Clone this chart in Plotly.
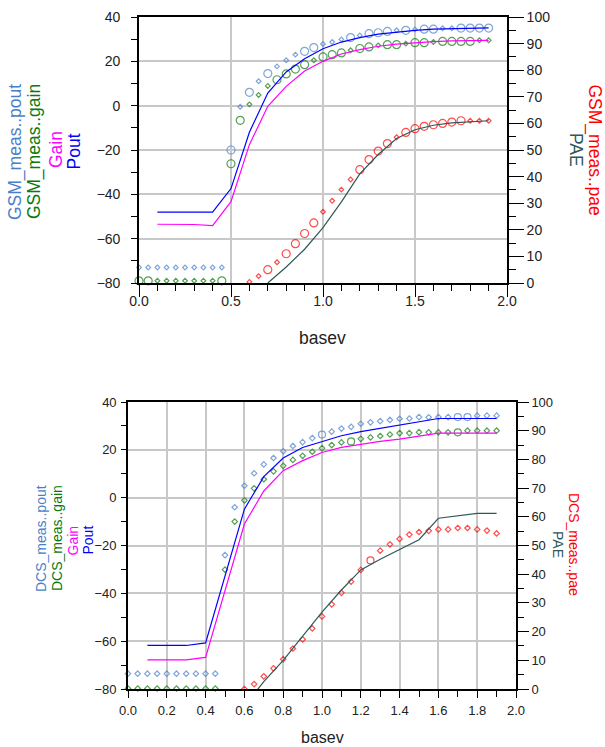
import plotly.graph_objects as go

FONT = "Liberation Sans, Arial, sans-serif"
W, H = 605, 747

# ---------------- data ----------------
x_meas = [0.0, 0.05, 0.1, 0.15, 0.2, 0.25, 0.3, 0.35, 0.4, 0.45,
          0.5, 0.55, 0.6, 0.65, 0.7, 0.75, 0.8, 0.85, 0.9, 0.95,
          1.0, 1.05, 1.1, 1.15, 1.2, 1.25, 1.3, 1.35, 1.4, 1.45,
          1.5, 1.55, 1.6, 1.65, 1.7, 1.75, 1.8, 1.85, 1.9]
x_model = [0.1, 0.2, 0.3, 0.4, 0.5, 0.6, 0.7, 0.8, 0.9, 1.0,
           1.1, 1.2, 1.3, 1.4, 1.5, 1.6, 1.7, 1.8, 1.9]

# top chart (GSM)
gsm_meas_pout = [-73, -73, -73, -73, -73, -73, -73, -73, -73, -73,
                 -20, -0.5, 6, 11, 14.5, 17.7, 20.5, 23, 24.5, 26.2,
                 27.8, 28.7, 29.9, 30.7, 31.7, 32.5, 32.9, 33.5, 34, 34,
                 34.4, 34.5, 34.5, 34.9, 34.9, 35, 35, 35, 35]
gsm_meas_gain = [-79, -79, -79, -79, -79, -79, -79, -79, -79, -79,
                 -26.2, -6.6, 0.6, 4.8, 8.9, 11.7, 14.3, 16.5, 18.5, 20.5,
                 22, 23, 23.8, 25, 25.8, 26.5, 27.2, 27.5, 27.5, 28,
                 28.4, 28.4, 28.7, 29, 29, 29, 29, 29.5, 29.5]
gsm_meas_pae = [None, None, None, None, None, None, None, None, None, None,
                None, None, 0.4, 2.6, 5, 7.8, 11, 14.8, 18.6, 22.6,
                26.8, 30.9, 35.1, 38.9, 42.6, 46.4, 49.6, 52.4, 54.8, 56.6,
                58, 58.9, 59.5, 60, 60.5, 61, 61, 61, 61]
gsm_pout = [-48, -48, -48, -48, -37.4, -12, 5.7, 15.2, 21.2, 25.7,
            28.7, 30.7, 32.3, 33.3, 34, 34.5, 34.8, 35, 35.1]
gsm_gain = [-53.5, -53.5, -53.6, -54.1, -43.3, -17.6, -0.3, 8.7, 15.6, 20,
            23.3, 25.3, 26.8, 27.8, 28.5, 28.9, 29.2, 29.4, 29.5]
gsm_pae = [None, None, None, None, None, None, 0, 6, 12.7, 20.8,
           30.5, 41, 48.3, 54.3, 57.6, 59.3, 60.2, 60.7, 61]

# bottom chart (DCS)
dcs_meas_pout = [-73.6, -73.6, -73.6, -73.6, -73.6, -73.6, -73.6, -73.6, -73.6, -73.6,
                 -24, -4, 5, 10.2, 13.9, 16.6, 19.4, 21.6, 23.2, 24.9,
                 26.4, 27.6, 28.9, 29.6, 30.9, 31.5, 32, 32.5, 33, 33.1,
                 33.7, 33.6, 33.7, 33.7, 33.7, 33.7, 34.3, 34.3, 34.3]
dcs_meas_gain = [-79.8, -79.8, -79.8, -79.8, -79.8, -79.8, -79.8, -79.8, -79.8, -79.8,
                 -30.1, -10, -1.1, 3.9, 7.7, 11, 13.3, 15.8, 17.5, 19.2,
                 20.7, 22, 23.1, 23.5, 24.6, 25.2, 25.8, 26.4, 27, 27,
                 27.4, 27.3, 27.3, 27.3, 27.3, 28, 28, 28, 28]
dcs_meas_pae = [None, None, None, None, None, None, None, None, None, None,
                None, None, 0, 1.7, 4.4, 7.2, 10.4, 14.1, 17.3, 21.1,
                25.3, 29.5, 33.5, 37.4, 41.5, 44.8, 48.2, 50.4, 52.3, 53.8,
                54.7, 55.1, 55.6, 55.6, 56.1, 56.1, 55.6, 55.2, 54.2]
dcs_pout = [-61.8, -61.8, -61.8, -60.7, -33, -4.8, 8.8, 16.6, 21, 23.6,
            25.9, 27.6, 29, 30.2, 31.7, 33.1, 33.1, 33.1, 33.1]
dcs_gain = [-67.8, -67.8, -67.8, -66.8, -39, -11, 2.8, 11.3, 15.5, 18.9,
            21, 22.4, 23.5, 24.5, 25.8, 27, 27, 27, 27]
dcs_pae = [None, None, None, None, None, -6, 2.6, 10, 18.3, 26.8,
           34.5, 41.5, 45.2, 48.5, 52, 59.5, 60.4, 61.2, 61.2]

# ---------------- marker styles (c = circle, d = diamond) ----------------
SYM_GSM_POUT = "dddddddddd" + "cdcdcdddcc" + "dddcdcccdc" + "dccddcccc"
SYM_GSM_GAIN = "ccdddddddc" + "ccdddccccd" + "cccdccdccd" + "ccdccccdd"
SYM_GSM_PAE = "dddddddddd" + "ddddcdcccc" + "ddddccccdc" + "ccccccddd"
SYM_DCS_POUT = "dddddddddd" + "dddddddddd" + "cddddddddd" + "ddddccddd"
SYM_DCS_GAIN = "dddddddddd" + "dddddddddd" + "dddcdddddd" + "ddddcdddd"
SYM_DCS_PAE = "dddddddddd" + "dddddddddd" + "dddddcdddd" + "ddddddddd"

C_MPOUT = "#4A7FC8"
C_MGAIN = "#0A7A0A"
C_GAIN = "#FF00FF"
C_POUT = "#0000FF"
C_MPAE = "#FF0000"
C_PAE = "#2F5858"


def marker(sym, color, csize, dsize):
    return dict(
        symbol=["circle-open" if s == "c" else "diamond-open" for s in sym],
        size=[csize if s == "c" else dsize for s in sym],
        color=color,
        line=dict(width=1.2, color=color),
    )


fig = go.Figure()

# ---- top chart ----
fig.add_trace(go.Scatter(x=x_meas, y=gsm_meas_pout, mode="markers", xaxis="x", yaxis="y",
                         marker=marker(SYM_GSM_POUT, C_MPOUT, 8, 3.6), cliponaxis=False))
fig.add_trace(go.Scatter(x=x_meas, y=gsm_meas_gain, mode="markers", xaxis="x", yaxis="y",
                         marker=marker(SYM_GSM_GAIN, C_MGAIN, 8, 3.6), cliponaxis=False))
fig.add_trace(go.Scatter(x=x_model, y=gsm_gain, mode="lines", xaxis="x", yaxis="y",
                         line=dict(color=C_GAIN, width=1.2)))
fig.add_trace(go.Scatter(x=x_model, y=gsm_pout, mode="lines", xaxis="x", yaxis="y",
                         line=dict(color=C_POUT, width=1.2)))
fig.add_trace(go.Scatter(x=x_meas, y=gsm_meas_pae, mode="markers", xaxis="x", yaxis="y2",
                         marker=marker(SYM_GSM_PAE, C_MPAE, 8, 3.6)))
fig.add_trace(go.Scatter(x=x_model, y=gsm_pae, mode="lines", xaxis="x", yaxis="y2",
                         line=dict(color=C_PAE, width=1.2)))

# ---- bottom chart ----
fig.add_trace(go.Scatter(x=x_meas, y=dcs_meas_pout, mode="markers", xaxis="x2", yaxis="y3",
                         marker=marker(SYM_DCS_POUT, C_MPOUT, 7, 4.2), cliponaxis=False))
fig.add_trace(go.Scatter(x=x_meas, y=dcs_meas_gain, mode="markers", xaxis="x2", yaxis="y3",
                         marker=marker(SYM_DCS_GAIN, C_MGAIN, 7, 4.2), cliponaxis=False))
fig.add_trace(go.Scatter(x=x_model, y=dcs_gain, mode="lines", xaxis="x2", yaxis="y3",
                         line=dict(color=C_GAIN, width=1.2)))
fig.add_trace(go.Scatter(x=x_model, y=dcs_pout, mode="lines", xaxis="x2", yaxis="y3",
                         line=dict(color=C_POUT, width=1.2)))
fig.add_trace(go.Scatter(x=x_meas, y=dcs_meas_pae, mode="markers", xaxis="x2", yaxis="y4",
                         marker=marker(SYM_DCS_PAE, C_MPAE, 7, 4.2)))
fig.add_trace(go.Scatter(x=x_model, y=dcs_pae, mode="lines", xaxis="x2", yaxis="y4",
                         line=dict(color=C_PAE, width=1.2)))

# ---------------- axes ----------------
GRID = "#C8C8C8"
TICKC = "#222222"


def px_dom_x(a, b):
    return [a / W, b / W]


def px_dom_y(top, bottom):
    return [1 - bottom / H, 1 - top / H]


def base(fs):
    return dict(showline=True, linecolor="black", linewidth=1.6, mirror=True,
                zeroline=False, tickcolor="black", tickwidth=1.3, automargin=False,
                tickfont=dict(family=FONT, size=fs, color=TICKC), fixedrange=True)


TOP_X = (139, 507)
TOP_Y = (17, 283)
BOT_X = (128, 516)
BOT_Y = (402, 689)

layout_axes = dict(
    xaxis=dict(base(14), domain=px_dom_x(*TOP_X), anchor="y", range=[0, 2],
               tick0=0, dtick=0.5, ticks="outside", ticklen=12,
               ticklabelstandoff=-8,
               showgrid=True, gridcolor=GRID, gridwidth=1.6, tickformat=".1f",
               minor=dict(tick0=0, dtick=0.1, ticks="outside", ticklen=6,
                          tickcolor="black", tickwidth=1.2, showgrid=False)),
    yaxis=dict(base(14), domain=px_dom_y(*TOP_Y), anchor="x", range=[-80, 40],
               tick0=-80, dtick=20, ticks="outside", ticklen=6,
               ticklabelstandoff=8,
               showgrid=True, gridcolor=GRID, gridwidth=1.6,
               minor=dict(tick0=-80, dtick=10, ticks="outside", ticklen=6,
                          tickcolor="black", tickwidth=1.2, showgrid=False)),
    yaxis2=dict(base(14), overlaying="y", anchor="x", side="right", range=[0, 100],
                tick0=0, dtick=10, ticks="outside", ticklen=15, showgrid=False,
                minor=dict(tick0=0, dtick=5, ticks="outside", ticklen=7,
                           tickcolor="black", tickwidth=1.2, showgrid=False)),
    xaxis2=dict(base(13), domain=px_dom_x(*BOT_X), anchor="y3", range=[0, 2],
                tick0=0, dtick=0.2, ticks="outside", ticklen=7,
                ticklabelstandoff=2,
                showgrid=True, gridcolor=GRID, gridwidth=1.6, tickformat=".1f",
                minor=dict(tick0=0, dtick=0.1, ticks="outside", ticklen=6,
                           tickcolor="black", tickwidth=1.2, showgrid=False)),
    yaxis3=dict(base(13), domain=px_dom_y(*BOT_Y), anchor="x2", range=[-80, 40],
                tick0=-80, dtick=20, ticks="outside", ticklen=5,
                ticklabelstandoff=2,
                showgrid=True, gridcolor=GRID, gridwidth=1.6,
                minor=dict(tick0=-80, dtick=10, ticks="outside", ticklen=5,
                           tickcolor="black", tickwidth=1.2, showgrid=False)),
    yaxis4=dict(base(13), overlaying="y3", anchor="x2", side="right", range=[0, 100],
                tick0=0, dtick=10, ticks="outside", ticklen=11, showgrid=False,
                minor=dict(tick0=0, dtick=5, ticks="outside", ticklen=6,
                           tickcolor="black", tickwidth=1.2, showgrid=False)),
)

# ---------------- titles ----------------
ann = []


def txt(text, xpx, ypx, color, size, angle=0):
    ann.append(dict(text=text, x=xpx / W, y=1 - ypx / H, xref="paper", yref="paper",
                    xanchor="center", yanchor="middle", showarrow=False, textangle=angle,
                    font=dict(family=FONT, size=size, color=color)))


# top chart titles
txt("basev", 322, 338, "#222222", 17.5)
txt("GSM_meas..pout", 16, 152, C_MPOUT, 17.5, -90)
txt("GSM_meas..gain", 35, 152, C_MGAIN, 17.5, -90)
txt("Gain", 56, 150, C_GAIN, 17.5, -90)
txt("Pout", 73.5, 152, C_POUT, 17.5, -90)
txt("GSM_meas..pae", 594.5, 150, C_MPAE, 17.5, 90)
txt("PAE", 576, 150, C_PAE, 17.5, 90)

# bottom chart titles
txt("basev", 322, 737, "#222222", 16)
txt("DCS_meas..pout", 41, 538, C_MPOUT, 14, -90)
txt("DCS_meas..gain", 57, 538, C_MGAIN, 14, -90)
txt("Gain", 72.5, 541, C_GAIN, 14, -90)
txt("Pout", 87.5, 540, C_POUT, 14, -90)
txt("DCS_meas..pae", 574, 544, C_MPAE, 14, 90)
txt("PAE", 558, 544, C_PAE, 14, 90)

fig.update_layout(
    width=W, height=H, autosize=False,
    margin=dict(l=0, r=0, t=0, b=0, autoexpand=False),
    paper_bgcolor="white", plot_bgcolor="white",
    showlegend=False,
    font=dict(family=FONT),
    annotations=ann,
    **layout_axes,
)

fig.write_html(
    "out.html", include_plotlyjs=True, config={"displayModeBar": False},
    post_script="document.body.style.margin='0px';document.body.style.padding='0px';"
                "document.documentElement.style.overflow='hidden';",
)
